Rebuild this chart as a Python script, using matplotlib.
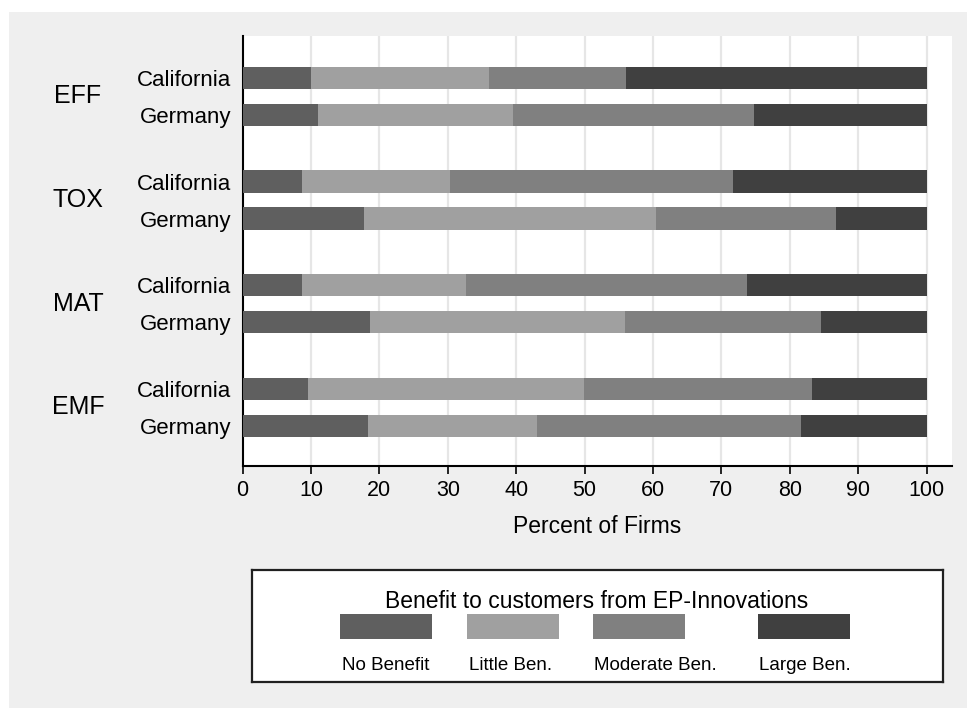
import numpy as np
import matplotlib
matplotlib.use("Agg")
import matplotlib.pyplot as plt
import matplotlib.transforms as mtransforms
from matplotlib.patches import Rectangle

plt.rcParams['font.family'] = ['Liberation Sans', 'DejaVu Sans']

# =================== Data ===================

groups = ["EFF", "TOX", "MAT", "EMF"]
regions = ["California", "Germany"]
categories = ["No Benefit", "Little Ben.", "Moderate Ben.", "Large Ben."]
legend_title = "Benefit to customers from EP-Innovations"

# percent of firms per category, rows: (EFF Cal, EFF Ger, TOX Cal, ...)
no_benefit = [10.0, 11.0, 8.7, 17.7, 8.7, 18.7, 9.6, 18.3]
little_ben = [26.0, 28.5, 21.7, 42.7, 23.9, 37.2, 40.3, 24.8]
moderate_ben = [20.0, 35.2, 41.3, 26.3, 41.2, 28.6, 33.3, 38.6]
large_ben = [44.0, 25.3, 28.3, 13.3, 26.2, 15.5, 16.8, 18.3]

colors = ["#5f5f5f", "#a0a0a0", "#808080", "#404040"]

# =================== Layout ===================

W, H = 967, 708
fig = plt.figure(figsize=(W / 100, H / 100), dpi=100, facecolor="white")
fig.patches.append(Rectangle((9 / W, 0), 1, (H - 12) / H, transform=fig.transFigure,
                             facecolor="#efefef", edgecolor="none", zorder=-10))

def fig_box(x0, y0, x1, y1):
    # pixel box (top-left origin) -> figure fraction rect
    return [x0 / W, (H - y1) / H, (x1 - x0) / W, (y1 - y0) / H]

ax = fig.add_axes(fig_box(242.5, 36, 952, 466))
ax.set_facecolor("white")

pair_gap = 1.0
group_gap = 2.8
ypos = []
for g in range(len(groups)):
    for r in range(len(regions)):
        ypos.append(g * group_gap + r * pair_gap)
ypos = np.array(ypos)

series = [no_benefit, little_ben, moderate_ben, large_ben]
left = np.zeros(len(ypos))
for vals, col, lab in zip(series, colors, categories):
    vals = np.array(vals)
    ax.barh(ypos, vals, left=left, height=0.61, color=col, linewidth=0, label=lab, zorder=3)
    left += vals

ax.set_xlim(0, 103.7)
ax.set_ylim(10.486, -1.135)

ax.set_xticks(np.arange(0, 101, 10))
ax.tick_params(axis="x", labelsize=15.5, length=6, width=1.2, pad=4, color="black")
for x in range(10, 101, 10):
    ax.axvline(x, color="#e6e6e6", linewidth=1.6, zorder=1)

ax.set_yticks(ypos)
ax.set_yticklabels(regions * len(groups), fontsize=16)
ax.tick_params(axis="y", length=0, pad=8)

for side in ("top", "right"):
    ax.spines[side].set_visible(False)
for side in ("left", "bottom"):
    ax.spines[side].set_linewidth(1.5)

ax.set_xlabel("Percent of Firms", fontsize=16.5, labelpad=10)

# group labels to the left of the region labels
trans = mtransforms.blended_transform_factory(fig.transFigure, ax.transData)
for g, name in enumerate(groups):
    yc = g * group_gap + pair_gap / 2
    ax.text(78 / W, yc, name, transform=trans, fontsize=18, ha="center", va="center")

# =================== Legend ===================

box_l, box_t, box_r, box_b = 251.7, 570, 942.5, 682
lax = fig.add_axes(fig_box(box_l, box_t, box_r, box_b))
lax.set_xlim(0, box_r - box_l)
lax.set_ylim(box_b - box_t, 0)
lax.set_xticks([])
lax.set_yticks([])
lax.set_facecolor("white")
for s in lax.spines.values():
    s.set_linewidth(1.6)
    s.set_color("#202020")

key_x = [340, 467.4, 592.9, 757.6]
for kx, col, lab in zip(key_x, colors, categories):
    lax.add_patch(Rectangle((kx - box_l, 44), 92, 25, facecolor=col, edgecolor="none"))
    lax.text(kx - box_l + 1.5, 100, lab, fontsize=13.5, ha="left", va="baseline")

lax.text((box_r - box_l) / 2, 37.5, legend_title, fontsize=16.5, ha="center", va="baseline")

fig.savefig("out.png", dpi=100, facecolor=fig.get_facecolor())
